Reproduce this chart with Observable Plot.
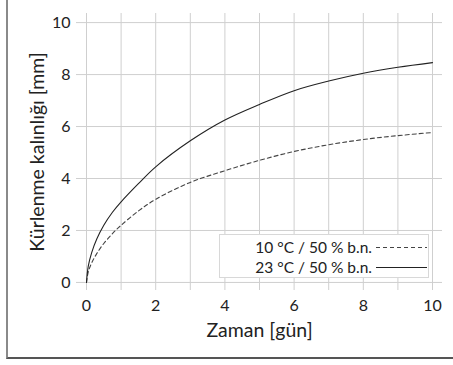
<!DOCTYPE html>
<html>
<head>
<meta charset="utf-8">
<script src="https://cdn.jsdelivr.net/npm/d3@7"></script>
<script src="https://cdn.jsdelivr.net/npm/@observablehq/plot@0.6"></script>
<style>
  html, body { margin: 0; padding: 0; background: #fff; }
  #wrap { position: relative; width: 453px; height: 365px; overflow: hidden; font-family: Lato, sans-serif; }
  #frame { position: absolute; left: 6px; top: -4px; width: 460px; height: 361px; border-left: 2px solid #8a8a8a; border-bottom: 2px solid #555; }
  #chart { position: absolute; left: 0; top: 0; }
  #legend { position: absolute; left: 219px; top: 234px; width: 208px; height: 42px; background: #fff; border: 1px solid #d8d8d8; font-size: 15.5px; color: #222; }
  .row { position: absolute; right: 0; display: flex; align-items: center; }
  .row span { display: inline-block; text-align: right; margin-right: 4px; white-space: nowrap; }
  .row svg { display: block; margin-right: 1px; }
</style>
</head>
<body>
<div id="wrap">
  <div id="frame"></div>
  <div id="chart"></div>
  <div id="legend"></div>
</div>
<script>
// Data
const times   = [0, 0.05, 0.15, 0.3, 0.5, 0.75, 1, 1.5, 2, 3, 4, 5, 6, 7, 8, 9, 10];
const series23 = [0, 0.62, 1.15, 1.68, 2.2, 2.7, 3.1, 3.8, 4.45, 5.45, 6.25, 6.85, 7.38, 7.75, 8.05, 8.28, 8.46];
const series10 = [0, 0.4, 0.75, 1.12, 1.5, 1.88, 2.2, 2.75, 3.2, 3.85, 4.3, 4.7, 5.04, 5.3, 5.5, 5.65, 5.77];
const seriesNames = ["10 °C / 50 % b.n.", "23 °C / 50 % b.n."];
const xTicks = [0, 2, 4, 6, 8, 10];
const yTicks = [0, 2, 4, 6, 8, 10];
const xGrid = [0, 1, 2, 3, 4, 5, 6, 7, 8, 9, 10];
const xLabel = "Zaman [gün]";
const yLabel = "Kürlenme kalınlığı [mm]";

const d10 = times.map((t, i) => ({t, v: series10[i]}));
const d23 = times.map((t, i) => ({t, v: series23[i]}));

const chart = Plot.plot({
  width: 453,
  height: 365,
  marginLeft: 76,
  marginRight: 11,
  marginTop: 13,
  marginBottom: 75,
  x: {domain: [-0.289, 10.289]},
  y: {domain: [-0.31, 10.35]},
  style: {fontFamily: "Lato, sans-serif", fontSize: "16px", color: "#222", background: "transparent"},
  marks: [
    Plot.ruleX(xGrid, {stroke: "#cfcfcf", strokeWidth: 1}),
    Plot.ruleY(yTicks, {stroke: "#cfcfcf", strokeWidth: 1}),
    Plot.line(d10, {x: "t", y: "v", curve: "catmull-rom", stroke: "#444", strokeWidth: 1.1, strokeDasharray: "4,3"}),
    Plot.line(d23, {x: "t", y: "v", curve: "catmull-rom", stroke: "#222", strokeWidth: 1.1}),
    Plot.axisX(xTicks, {tickSize: 0, tickPadding: 9, label: null, fontSize: 16}),
    Plot.axisY(yTicks, {tickSize: 0, tickPadding: 6, label: null, fontSize: 16}),
    Plot.text([xLabel], {frameAnchor: "bottom", dy: 46, fontSize: 19.5, fill: "#222", textAnchor: "middle"}),
    Plot.text([yLabel], {frameAnchor: "left", rotate: -90, dx: -39, fontSize: 19.5, fill: "#222", textAnchor: "middle"})
  ]
});
document.getElementById("chart").appendChild(chart);

// Legend (HTML overlay)
const legend = document.getElementById("legend");
const styles = [{dash: "4,3", stroke: "#444"}, {dash: null, stroke: "#222"}];
const tops = [3, 23];
seriesNames.forEach((name, i) => {
  const row = document.createElement("div");
  row.className = "row";
  row.style.top = tops[i] + "px";
  const span = document.createElement("span");
  span.textContent = name;
  row.appendChild(span);
  const svg = d3.create("svg").attr("width", 51).attr("height", 14);
  const ln = svg.append("line").attr("x1", 0).attr("x2", 51).attr("y1", 7.5).attr("y2", 7.5)
    .attr("stroke", styles[i].stroke).attr("stroke-width", 1.1);
  if (styles[i].dash) ln.attr("stroke-dasharray", styles[i].dash);
  row.appendChild(svg.node());
  legend.appendChild(row);
});
</script>
</body>
</html>
